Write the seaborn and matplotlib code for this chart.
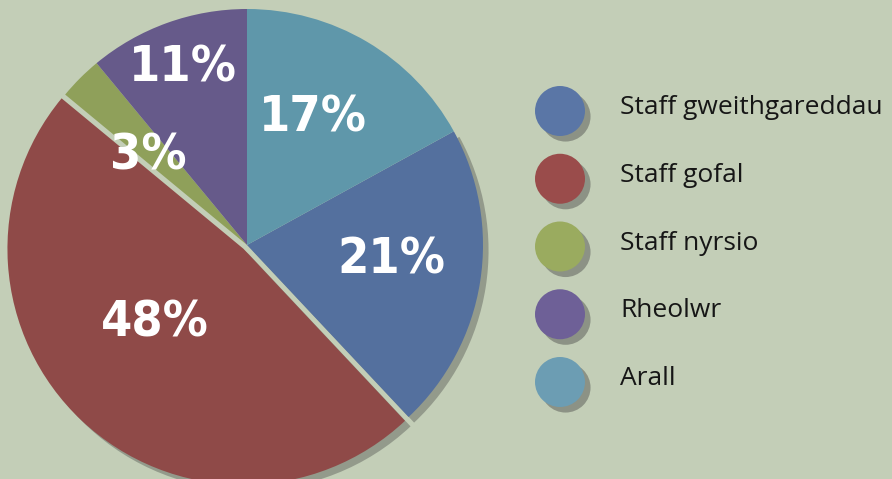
import matplotlib.pyplot as plt
import matplotlib.patheffects as pe
import pandas as pd
import seaborn as sns

# chart data
labels = ["Staff gweithgareddau", "Staff gofal", "Staff nyrsio", "Rheolwr", "Arall"]
shares = [21, 48, 3, 11, 17]
pie_colors = ["#54709e", "#8f4a48", "#8fa05a", "#665a8a", "#5f97aa"]
dot_colors = ["#5a76a6", "#9a4c4b", "#9aab5f", "#6e6097", "#6c9db3"]
explode = [0, 0.022, 0, 0, 0]
# where each percentage sits inside the pie (pie data units)
label_pos = [(0.61, -0.06), (-0.39, -0.33), (-0.42, 0.38), (-0.27, 0.75), (0.28, 0.54)]

W, H = 892, 479
BG = "#c3ceb7"

sns.set_theme(style="white", rc={"figure.facecolor": BG, "axes.facecolor": "none"})
plt.rcParams["font.family"] = ["Open Sans", "DejaVu Sans"]

fig = plt.figure(figsize=(W / 100, H / 100), dpi=100)

# pie, centre (247, 245) px from top-left, radius 236 px
cx, cy, R = 247, 245, 236
ax = fig.add_axes([(cx - R) / W, (H - cy - R) / H, 2 * R / W, 2 * R / H])
start = 90 - shares[-1] / sum(shares) * 360
wedges, _ = ax.pie(shares, colors=pie_colors, explode=explode, startangle=start,
                   counterclock=False, radius=1,
                   wedgeprops=dict(linewidth=0))
# only the wedges on the lower-right rim cast a visible shadow
for w in wedges[:2]:
    w.set_path_effects([pe.SimplePatchShadow(offset=(4, -4), shadow_rgbFace="#3a3a3a", alpha=0.35),
                        pe.Normal()])
ax.set_xlim(-1, 1)
ax.set_ylim(-1, 1)
ax.set_aspect("equal")
ax.axis("off")

for (x, y), s in zip(label_pos, shares):
    ax.text(x, y, f"{s}%", ha="center", va="center", color="white",
            fontsize=36, fontweight="bold", fontstretch="condensed",
            family=["DejaVu Sans"])

# legend drawn as its own small axes
leg = fig.add_axes([0, 0, 1, 1])
leg.set_xlim(0, W)
top_y, step = 111, 67.75
leg.set_ylim((H - top_y) / step, -top_y / step)
leg.axis("off")
df = pd.DataFrame({"x": 560, "y": range(len(labels)), "label": labels})
sns.scatterplot(data=df, x="x", y="y", hue="label", palette=dot_colors,
                s=1296, linewidth=0, legend=False, ax=leg)
leg.collections[0].set_path_effects([
    pe.SimplePatchShadow(offset=(4, -4), shadow_rgbFace="#3a3a3a", alpha=0.4), pe.Normal()])
for i, name in enumerate(labels):
    leg.text(620, i - 0.05, name, ha="left", va="center", fontsize=19, color="#161616")

fig.savefig("out.png", dpi=100, facecolor=BG)
